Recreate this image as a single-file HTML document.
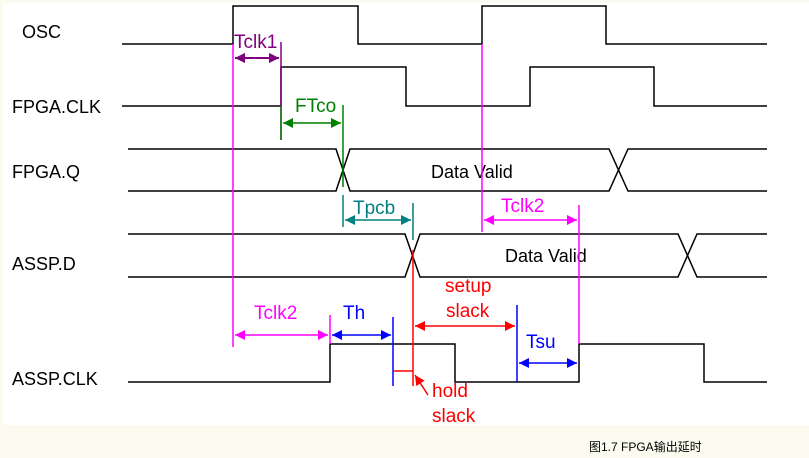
<!DOCTYPE html>
<html><head><style>
body{margin:0;background:#fbfbf0;}
svg{display:block;font-family:"Liberation Sans","Noto Sans CJK SC",sans-serif;}
</style></head><body>
<svg width="809" height="458" viewBox="0 0 809 458">
<defs>
<marker id="ap" viewBox="0 0 10 10" refX="10" refY="5" markerWidth="7" markerHeight="7" markerUnits="userSpaceOnUse" orient="auto-start-reverse"><path d="M0,0L10,5L0,10z" fill="#800080"/></marker>
<marker id="ag" viewBox="0 0 10 10" refX="10" refY="5" markerWidth="10" markerHeight="10" markerUnits="userSpaceOnUse" orient="auto-start-reverse"><path d="M0,0L10,5L0,10z" fill="#008000"/></marker>
<marker id="at" viewBox="0 0 10 10" refX="10" refY="5" markerWidth="10" markerHeight="10" markerUnits="userSpaceOnUse" orient="auto-start-reverse"><path d="M0,0L10,5L0,10z" fill="#008080"/></marker>
<marker id="am" viewBox="0 0 10 10" refX="10" refY="5" markerWidth="10" markerHeight="10" markerUnits="userSpaceOnUse" orient="auto-start-reverse"><path d="M0,0L10,5L0,10z" fill="#ff00ff"/></marker>
<marker id="ab" viewBox="0 0 10 10" refX="10" refY="5" markerWidth="10" markerHeight="10" markerUnits="userSpaceOnUse" orient="auto-start-reverse"><path d="M0,0L10,5L0,10z" fill="#0000ff"/></marker>
<marker id="ar" viewBox="0 0 10 10" refX="10" refY="5" markerWidth="10" markerHeight="10" markerUnits="userSpaceOnUse" orient="auto-start-reverse"><path d="M0,0L10,5L0,10z" fill="#ff0000"/></marker>
</defs>
<rect x="3" y="3" width="806" height="422" fill="#fff"/>
<g fill="none" stroke="#000" stroke-width="1.5">
<path d="M122,44H233V6H358V44H482V6H606V44H767"/>
<path d="M122,106H281V67H406V106H530V67H654V106H767"/>
<path d="M128,149H336L350,191H609L628,149H767"/>
<path d="M128,191H336L350,149H609L628,191H767"/>
<path d="M128,234H405L420,277H678L697,234H767"/>
<path d="M128,277H405L420,234H678L697,277H767"/>
<path d="M128,382H330V344H455V382H579V344H704V382H767"/>
</g>
<g font-size="18" fill="#000">
<text x="22" y="38">OSC</text>
<text x="12" y="113">FPGA.CLK</text>
<text x="12" y="178">FPGA.Q</text>
<text x="12" y="270">ASSP.D</text>
<text x="12" y="385">ASSP.CLK</text>
<text x="431" y="178">Data Valid</text>
<text x="505" y="262">Data Valid</text>
</g>
<g stroke-width="1.5" fill="none">
<path d="M233,44V347M482,44V232M579,205V344M330,315V344" stroke="#ff00ff"/>
<path d="M281,42V140" stroke="#800080"/>
<line x1="235" y1="58" x2="279" y2="58" stroke="#800080" stroke-width="2" marker-start="url(#ag)" marker-end="url(#ag)" style="color:#800080"/>
<path d="M281,106V140M343,105V187" stroke="#008000"/>
<line x1="283" y1="123" x2="341" y2="123" stroke="#008000" marker-start="url(#ag)" marker-end="url(#ag)"/>
<path d="M343,195V227M413,203V240" stroke="#008080"/>
<line x1="345" y1="220" x2="411" y2="220" stroke="#008080" marker-start="url(#at)" marker-end="url(#at)"/>
<line x1="484" y1="220" x2="577" y2="220" stroke="#ff00ff" marker-start="url(#am)" marker-end="url(#am)"/>
<line x1="235" y1="335" x2="328" y2="335" stroke="#ff00ff" marker-start="url(#am)" marker-end="url(#am)"/>
<path d="M393,317V386M517,305V382" stroke="#0000ff"/>
<line x1="332" y1="335" x2="391" y2="335" stroke="#0000ff" marker-start="url(#ab)" marker-end="url(#ab)"/>
<line x1="519" y1="363" x2="577" y2="363" stroke="#0000ff" marker-start="url(#ab)" marker-end="url(#ab)"/>
<path d="M413,250V386M393,371H413" stroke="#ff0000"/>
<line x1="415" y1="326" x2="515" y2="326" stroke="#ff0000" marker-start="url(#ar)" marker-end="url(#ar)"/>
<line x1="428" y1="395" x2="415" y2="375" stroke="#ff0000" marker-end="url(#ar)"/>
</g>
<path d="M235,58l10,-5v10zM279,58l-10,-5v10z" fill="#800080"/>
<g font-size="19">
<text x="234" y="48" fill="#800080">Tclk1</text>
<text x="295" y="112" fill="#008000">FTco</text>
<text x="353" y="214" fill="#008080">Tpcb</text>
<text x="501" y="212" fill="#ff00ff">Tclk2</text>
<text x="254" y="319" fill="#ff00ff">Tclk2</text>
<text x="343" y="319" fill="#0000ff">Th</text>
<text x="526" y="348" fill="#0000ff">Tsu</text>
<text x="445" y="292" fill="#ff0000">setup</text>
<text x="446" y="317" fill="#ff0000">slack</text>
<text x="432" y="397" fill="#ff0000">hold</text>
<text x="432" y="422" fill="#ff0000">slack</text>
</g>
<text x="589" y="451" font-size="12" fill="#000">图1.7  FPGA输出延时</text>
</svg>
</body></html>
